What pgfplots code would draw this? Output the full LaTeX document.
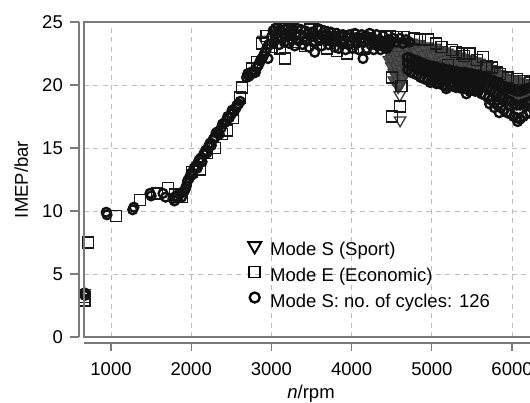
\documentclass[border=0pt]{standalone}
\usepackage{pgfplots}
\pgfplotsset{compat=1.18}
\usepackage{fontspec}
\setmainfont{Liberation Sans}
\definecolor{gridgray}{HTML}{BDBDBD}
\definecolor{boxgray}{HTML}{7A7A7A}
\definecolor{trigray}{HTML}{4E4E4E}
\definecolor{triedge}{HTML}{383838}
\begin{document}
\begin{tikzpicture}[font=\fontsize{18.5}{22}\selectfont]
\useasboundingbox (-84pt,-65pt) rectangle (446pt,337pt);
\begin{axis}[
  at={(0pt,0pt)}, anchor=south west,
  scale only axis, width=446pt, height=315pt,
  xmin=663, xmax=6224, ymin=0, ymax=25,
  clip mode=individual,
  axis line style={draw=none},
  xtick={1000,2000,...,6000}, ytick={0,5,...,25},
  major tick length=0pt,
  grid=major,
  major grid style={draw=gridgray, dash pattern=on 5pt off 4.5pt, line width=0.9pt},
  /pgf/number format/1000 sep={},
  /pgf/number format/assume math mode=true,
  ticklabel style={font=\fontsize{18.5}{22}\selectfont, inner sep=0pt},
  yticklabel style={anchor=east, xshift=-21pt},
  xticklabel style={anchor=north, yshift=-25pt},
  xlabel={\textit{n}/rpm}, ylabel={IMEP/bar},
  xlabel style={at={(axis description cs:0.509,-0.1937)}, anchor=base, inner sep=0pt},
  ylabel style={at={(axis description cs:-0.1256,0.5)}, anchor=base, inner sep=0pt},
  legend style={at={(axis description cs:0.3677,0.302)}, anchor=north west, draw=none, fill=none,
    font=\fontsize{18.5}{22}\selectfont, row sep=9.5pt, inner sep=0pt,
    nodes={inner sep=0pt}, /tikz/every odd column/.append style={column sep=9pt}},
  legend cell align=left,
  legend image code/.code={\draw[#1] plot coordinates {(0pt,0.36em)};},
]
% legend entries
\addlegendimage{only marks, mark=triangle, mark size=7.5pt, mark options={rotate=180, draw=black, line width=1.9pt}}
\addlegendentry{Mode S (Sport)}
\addlegendimage{only marks, mark=square, mark size=5.5pt, mark options={draw=black, line width=1.9pt}}
\addlegendentry{Mode E (Economic)}
\addlegendimage{only marks, mark=o, mark size=5pt, mark options={draw=black, line width=2.3pt}}
\addlegendentry{Mode S: no.\ of cycles: 126}

% Mode S (Sport): dense gray triangles
\addplot[forget plot, only marks, mark=triangle*, mark size=6.5pt,
  mark options={rotate=180, fill=trigray, draw=triedge, line width=0.8pt}] coordinates {
(4460,23.2)(4460,22.6)(4460,22.0)
(4490,23.4)(4490,22.8)(4490,22.1)(4490,21.5)
(4520,23.3)(4520,22.5)(4520,21.8)(4520,21.0)(4520,20.4)
(4550,23.5)(4550,22.9)(4550,22.2)(4550,21.5)(4550,20.8)
(4580,23.2)(4580,22.4)(4580,21.7)(4580,21.0)(4580,20.3)(4580,19.8)
(4610,23.4)(4610,22.7)(4610,22.0)(4610,21.3)(4610,20.6)(4610,20.0)
(4640,23.1)(4640,22.4)(4640,21.6)(4640,20.9)(4640,20.5)
(4680,23.5)(4680,22.8)(4680,22.1)(4680,21.4)(4680,20.9)
(4720,23.2)(4720,22.5)(4720,21.8)(4720,21.3)
(4760,23.4)(4760,22.9)(4760,22.2)(4760,21.6)
(4800,23.1)(4800,22.6)(4800,21.9)(4800,21.5)
(4850,23.3)(4850,22.7)(4850,22.0)(4850,21.6)
(4900,23.0)(4900,22.4)(4900,21.8)(4900,21.4)
(4950,23.1)(4950,22.5)(4950,21.9)(4950,21.3)
(5000,22.9)(5000,22.3)(5000,21.7)(5000,21.2)
(5050,23.0)(5050,22.4)(5050,21.8)(5050,21.2)
(5100,22.8)(5100,22.2)(5100,21.6)(5100,21.1)
(5150,22.7)(5150,22.0)(5150,21.5)(5150,21.0)
(5200,22.6)(5200,22.1)(5200,21.4)(5200,20.9)
(5250,22.5)(5250,21.9)(5250,21.3)(5250,20.8)
(5300,22.4)(5300,21.8)(5300,21.2)(5300,20.7)
(5350,22.3)(5350,21.7)(5350,21.1)(5350,20.6)
(5400,22.2)(5400,21.6)(5400,21.0)(5400,20.5)
(5450,22.1)(5450,21.5)(5450,20.9)(5450,20.4)
(5500,22.0)(5500,21.4)(5500,20.8)(5500,20.3)
(5550,21.9)(5550,21.3)(5550,20.7)(5550,20.2)
(5600,21.8)(5600,21.2)(5600,20.6)(5600,20.1)
(5650,21.6)(5650,21.0)(5650,20.5)(5650,20.0)
(5700,21.5)(5700,20.9)(5700,20.3)(5700,19.8)
(5750,21.3)(5750,20.7)(5750,20.1)(5750,19.6)
(5800,21.1)(5800,20.5)(5800,19.9)(5800,19.5)
(5850,20.9)(5850,20.3)(5850,19.8)(5850,19.3)
(5900,20.8)(5900,20.2)(5900,19.6)(5900,19.1)
(5950,20.6)(5950,20.0)(5950,19.4)(5950,18.9)
(6000,20.5)(6000,19.9)(6000,19.3)(6000,18.8)
(6050,20.4)(6050,19.8)(6050,19.2)(6050,18.7)
(6100,20.3)(6100,19.7)(6100,19.1)(6100,18.6)
(6150,20.2)(6150,19.6)(6150,19.0)(6150,18.6)
(6200,20.1)(6200,19.5)(6200,18.9)(6200,18.5)
};
% Mode S (Sport): isolated open triangles
\addplot[forget plot, only marks, mark=triangle, mark size=6.5pt,
  mark options={rotate=180, draw=triedge, line width=1.3pt}] coordinates {
(672,3.5)(4600,19.2)(4604,17.2)(4590,20.0)(2900,23.6)(3300,24.0)(3900,23.6)
};

% Mode E (Economic): squares
\addplot[forget plot, only marks, mark=square, mark size=5.5pt,
  mark options={draw=black!90, line width=1.3pt}] coordinates {
(668,2.9)(672,3.2)(713,7.5)(1062,9.6)(1361,10.9)(1573,11.4)(1710,11.8)(1885,11.1)
(1800,11.3)(2010,13.1)(2110,13.3)(2200,14.6)(2297,15.0)(2380,16.1)(2446,16.4)(2520,17.4)
(2608,19.0)(2633,19.8)(2760,21.3)(2820,21.8)(2883,23.3)(2940,23.9)(3000,23.0)
(3060,24.2)(3107,22.9)(3170,22.1)(3230,24.4)(3290,23.4)(3350,24.1)(3420,23.1)
(3480,24.4)(3560,23.6)(3640,24.2)(3693,22.9)(3760,24.0)(3820,22.7)(3880,23.8)
(3943,22.5)(4000,23.6)(4080,23.9)(4150,22.9)(4230,23.7)(4300,23.4)(4370,23.9)
(4441,23.8)(4480,23.9)(4560,23.8)(4650,23.8)(4780,23.7)(4850,23.6)(4950,23.6)
(5050,23.3)(5120,23.0)(5250,22.8)(5300,22.6)(5375,22.5)(5400,22.3)(5470,22.5)
(5560,22.0)(5640,22.2)(5680,21.5)(5750,21.4)(5810,21.0)(5850,20.9)(5950,20.6)
(6063,20.5)(6150,20.3)(6220,20.2)
(5500,19.6)(4504,20.6)(4604,18.3)(4504,17.5)(4620,19.9)(4700,22.0)(5200,21.6)
};

% Mode S: no. of cycles: circles
\addplot[forget plot, only marks, mark=o, mark size=4.4pt,
  mark options={draw=black!93, line width=2.4pt}] coordinates {
(670,3.5)(675,3.3)(940,9.9)(950,9.7)(1270,10.1)(1285,10.3)(1486,11.4)(1500,11.2)
(1648,11.4)(1680,11.1)(1773,11.0)(1790,10.8)(1810,11.2)(1830,11.0)(1850,11.4)(1880,11.1)
(1900,11.5)(1915,11.6)(1930,11.8)(1940,12.0)(1955,12.4)(1975,12.6)(1990,12.8)(2000,13.0)
(2015,12.9)(2035,13.4)(2050,13.5)(2060,13.6)(2075,13.4)(2095,14.0)(2110,14.1)(2120,14.2)
(2135,13.9)(2155,14.5)(2170,14.6)(2180,14.8)(2195,14.6)(2215,15.1)(2230,15.3)(2240,15.4)
(2250,15.2)(2275,15.7)(2290,15.8)(2300,15.9)(2310,16.2)(2335,16.3)(2350,16.1)(2375,16.6)
(2390,16.9)(2415,17.0)(2440,17.2)(2455,17.5)(2475,17.4)(2500,17.7)(2510,18.0)(2535,17.9)
(2560,18.2)(2570,18.4)(2590,18.5)(2610,18.7)
(2690,20.6)(2705,20.9)(2720,20.7)(2740,21.0)(2760,20.9)(2780,21.1)(2800,21.0)(2820,21.4)
(2840,21.6)(2860,21.9)(2880,22.1)(2900,22.3)(2920,22.6)(2940,22.9)(2957,22.1)(2965,23.2)
(2980,23.2)(3000,23.8)(3020,24.3)(3030,23.4)(3050,24.5)(3065,23.7)(3080,24.6)(3095,23.2)
(3110,24.3)(3125,23.8)(3140,24.6)(3160,23.4)(3175,24.4)(3190,23.9)(3205,24.6)(3220,23.3)
(3240,24.1)(3255,23.6)(3270,24.4)(3290,23.1)(3305,23.9)(3320,24.5)(3340,23.5)(3355,24.0)
(3370,24.4)(3390,23.2)(3405,23.8)(3420,24.3)(3440,23.5)(3455,24.1)(3470,23.0)(3490,23.8)
(3505,24.2)(3525,23.4)(3540,22.6)(3560,24.0)(3575,24.5)(3590,23.6)(3610,24.4)(3625,23.1)
(3640,23.9)(3660,24.3)(3675,23.5)(3690,24.0)(3710,23.2)(3725,23.8)(3740,24.2)(3760,23.4)
(3775,23.9)(3790,23.0)(3810,24.1)(3825,23.6)(3840,22.9)(3860,23.9)(3875,23.3)(3890,24.0)
(3910,23.5)(3925,22.8)(3940,23.8)(3960,23.2)(3975,24.0)(3990,23.5)(4010,22.9)(4025,23.7)
(4040,24.1)(4060,23.3)(4075,23.8)(4090,22.8)(4110,23.6)(4125,24.0)(4142,22.1)(4160,23.4)
(4175,23.9)(4190,22.9)(4210,23.6)(4225,24.1)(4240,23.2)(4260,23.7)(4275,22.8)(4290,23.5)
(4310,24.0)(4325,23.1)(4340,23.6)(4360,22.8)(4375,23.4)(4390,23.9)(4410,23.0)(4425,23.5)
(4440,22.9)(4455,23.6)
(4470,23.2)(4490,23.5)(4520,23.7)(4560,23.4)(4600,23.7)(4640,23.3)(4680,23.6)(4720,23.4)
(4700,22.2)(4700,21.7)(4700,21.2)(4740,22.1)(4740,21.5)(4740,21.0)
(4780,22.0)(4780,21.4)(4780,20.9)(4820,21.9)(4820,21.3)(4820,20.8)
(4860,21.8)(4860,21.2)(4860,20.6)(4900,21.7)(4900,21.1)(4900,20.5)
(4940,21.6)(4940,21.0)(4940,20.4)(4980,21.5)(4980,20.9)(4980,20.2)
(5020,21.5)(5020,20.8)(5020,20.3)(5060,21.4)(5060,20.8)(5060,20.1)
(5100,21.3)(5100,20.7)(5100,20.1)(5140,21.3)(5140,20.6)(5140,20.0)
(5180,21.2)(5180,20.6)(5180,19.9)(5220,21.2)(5220,20.5)(5220,20.0)
(5260,21.1)(5260,20.5)(5260,19.9)(5300,21.1)(5300,20.4)(5300,19.8)
(5340,21.0)(5340,20.4)(5340,19.8)(5380,21.0)(5380,20.3)(5380,19.7)
(5420,21.0)(5420,20.3)(5420,19.7)(5460,20.9)(5460,20.2)(5460,19.6)
(5500,20.9)(5500,20.2)(5500,19.6)(5540,20.8)(5540,20.1)(5540,19.5)
(5580,20.8)(5580,20.1)(5580,19.5)(5620,20.7)(5620,20.0)(5620,19.3)
(5660,20.6)(5660,19.9)(5660,19.2)(5700,20.5)(5700,19.8)(5700,19.0)
(5740,20.4)(5740,19.6)(5740,18.8)(5780,20.3)(5780,19.4)(5780,18.6)
(5820,20.2)(5820,19.3)(5820,18.4)(5860,20.0)(5860,19.1)(5860,18.2)
(5900,19.9)(5900,19.0)(5900,18.0)(5940,19.8)(5940,18.8)(5940,17.8)
(5980,19.7)(5980,18.7)(5980,17.7)(6020,19.6)(6020,18.5)(6020,17.5)
(6060,19.5)(6060,18.4)(6060,17.4)(6100,19.5)(6100,18.4)(6100,17.3)
(6140,19.6)(6140,18.5)(6140,17.5)(6180,19.7)(6180,18.6)(6180,17.7)
(6220,19.8)(6220,18.7)(6220,17.8)
(5180,19.7)(5430,19.3)(5720,18.5)(5780,18.2)(5840,17.8)(6070,17.1)
};

% box and offset axis lines
\draw[boxgray, line width=1.2pt] (rel axis cs:1,1) -- (rel axis cs:0,1) -- (rel axis cs:0,0) -- (rel axis cs:1,0);
\draw[boxgray, line width=1.2pt] ([xshift=-5pt]rel axis cs:0,0) -- ([xshift=-5pt]rel axis cs:0,1);
\draw[boxgray, line width=1.2pt] ([yshift=-6pt]rel axis cs:0,0) -- ([yshift=-6pt]rel axis cs:1,0);
\pgfplotsinvokeforeach{0,5,10,15,20,25}{
  \draw[boxgray, line width=1.2pt] ([xshift=-5pt]axis cs:663,#1) -- ++(-9pt,0pt);
}
\pgfplotsinvokeforeach{1000,2000,3000,4000,5000,6000}{
  \draw[boxgray, line width=1.2pt] ([yshift=-6pt]axis cs:#1,0) -- ++(0pt,-8pt);
}
\end{axis}
\end{tikzpicture}
\end{document}
